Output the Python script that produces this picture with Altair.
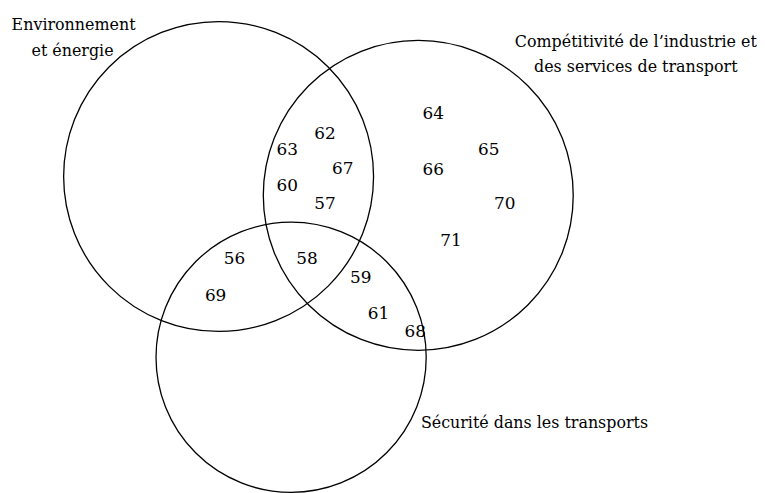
import altair as alt
import pandas as pd

# Circles (page pixel coordinates): centre x, centre y, radius
circle_names = ["Environnement et énergie", "Compétitivité de l'industrie et des services de transport", "Sécurité dans les transports"]
circle_cx = [220, 421, 293]
circle_cy = [176, 195, 358]
circle_r = [156, 156, 136]

# Numbers inside regions
num_labels = ["62", "63", "67", "60", "57", "64", "65", "66", "70", "71", "56", "69", "58", "59", "61", "68"]
num_x = [327, 289, 345, 289, 327, 436, 492, 436, 508, 454, 236, 217, 309, 363, 381, 418]
num_y = [133, 149, 168, 186, 204, 113, 149, 169, 204, 241, 259, 296, 259, 278, 314, 333]

# Set titles
title_text = ["Environnement", "et énergie", "Compétitivité de l\u2019industrie et", "des services de transport", "Sécurité dans les transports"]
title_x = [74, 73, 640, 640, 538]
title_y = [24, 50, 41, 66, 424]

FONT = "DejaVu Serif"

W, H = 749, 477
xs = alt.Scale(domain=[8, 8 + W], range=[0, W])
ys = alt.Scale(domain=[8, 8 + H], range=[0, H])

circles = pd.DataFrame({"name": circle_names, "x": circle_cx, "y": circle_cy,
                        "size": [(2 * r) ** 2 for r in circle_r]})
nums = pd.DataFrame({"t": num_labels, "x": num_x, "y": num_y})
titles = pd.DataFrame({"t": title_text, "x": title_x, "y": title_y})

c = alt.Chart(circles).mark_point(shape="circle", filled=False, stroke="black",
                                  strokeWidth=1.3, opacity=1, clip=False).encode(
    x=alt.X("x:Q", scale=xs, axis=None),
    y=alt.Y("y:Q", scale=ys, axis=None),
    size=alt.Size("size:Q", scale=None, legend=None),
)

n = alt.Chart(nums).mark_text(font=FONT, fontSize=17, color="black",
                              align="center", baseline="middle").encode(
    x=alt.X("x:Q", scale=xs, axis=None),
    y=alt.Y("y:Q", scale=ys, axis=None),
    text="t:N",
)

t = alt.Chart(titles).mark_text(font=FONT, fontSize=16, color="black",
                                align="center", baseline="middle").encode(
    x=alt.X("x:Q", scale=xs, axis=None),
    y=alt.Y("y:Q", scale=ys, axis=None),
    text="t:N",
)

chart = alt.layer(c, n, t).properties(width=W, height=H, padding=0).configure_view(stroke=None)
chart.save("out.html", embed_options={"renderer": "svg", "actions": False})
